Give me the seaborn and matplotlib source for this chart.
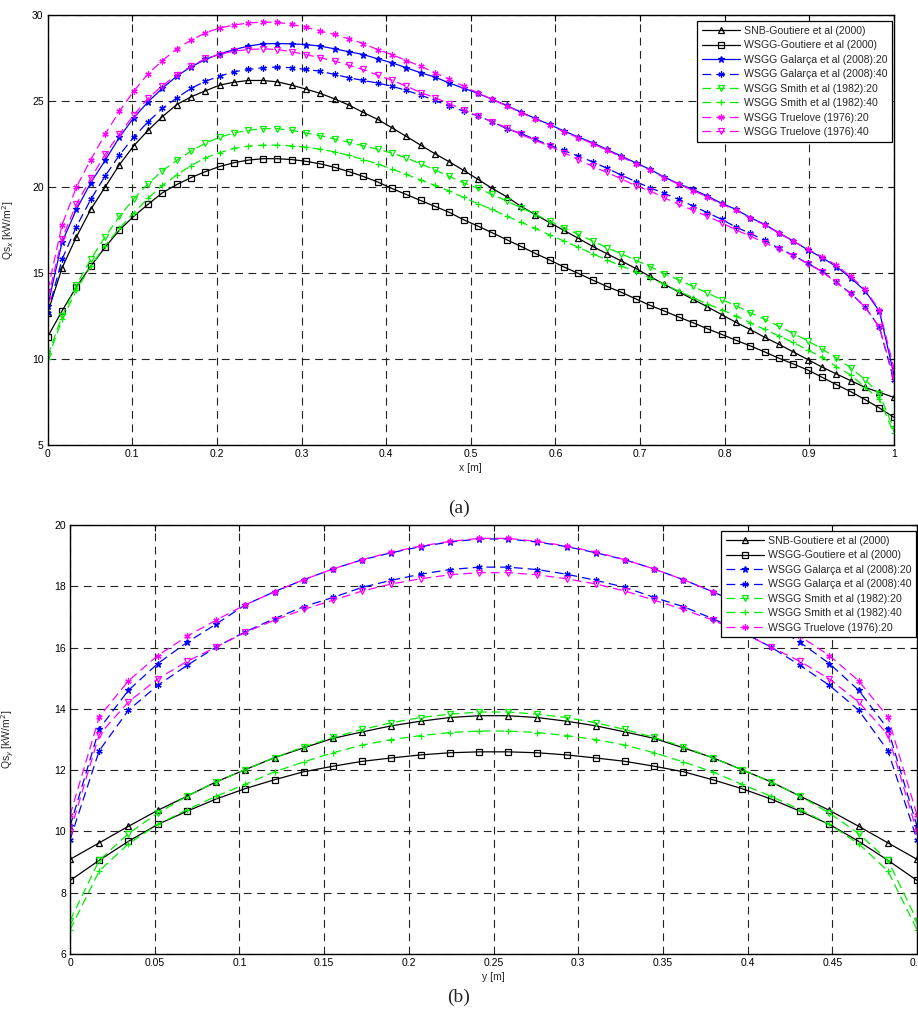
import numpy as np
import pandas as pd
import matplotlib
matplotlib.use("Agg")
import matplotlib.pyplot as plt
from matplotlib.ticker import FuncFormatter
import seaborn as sns

# ---- (a) wall flux along x, 60 stations ----
x_a = np.linspace(0, 1, 60)

snb_a = [12.7, 15.3, 17.1, 18.7, 20.0, 21.3, 22.4, 23.3, 24.1, 24.8,
         25.25, 25.6, 25.93, 26.1, 26.2, 26.2, 26.12, 25.93, 25.7, 25.45,
         25.13, 24.77, 24.34, 23.94, 23.45, 22.95, 22.44, 21.94, 21.47, 20.97,
         20.45, 19.92, 19.44, 18.88, 18.4, 17.93, 17.48, 17.02, 16.55, 16.12,
         15.7, 15.27, 14.8, 14.34, 13.91, 13.47, 13.04, 12.58, 12.13, 11.71,
         11.26, 10.85, 10.41, 9.97, 9.53, 9.13, 8.74, 8.35, 8.06, 7.77]
gout_a = [11.3, 12.8, 14.2, 15.4, 16.5, 17.5, 18.3, 19.0, 19.67, 20.15,
          20.55, 20.9, 21.2, 21.42, 21.57, 21.65, 21.65, 21.6, 21.5, 21.35,
          21.15, 20.9, 20.62, 20.3, 19.92, 19.57, 19.22, 18.88, 18.53, 18.1,
          17.73, 17.34, 16.94, 16.55, 16.14, 15.76, 15.35, 14.98, 14.59, 14.22,
          13.88, 13.5, 13.12, 12.79, 12.44, 12.11, 11.76, 11.43, 11.09, 10.76,
          10.41, 10.04, 9.71, 9.36, 8.94, 8.51, 8.1, 7.64, 7.15, 6.61]
gal20_a = [13.1, 16.8, 18.7, 20.25, 21.55, 22.9, 24.03, 24.96, 25.75, 26.45,
           27.0, 27.42, 27.75, 28.0, 28.2, 28.33, 28.35, 28.33, 28.29, 28.2,
           28.04, 27.87, 27.71, 27.46, 27.23, 26.94, 26.65, 26.4, 26.05, 25.75,
           25.45, 25.1, 24.75, 24.36, 23.99, 23.64, 23.26, 22.91, 22.58, 22.19,
           21.8, 21.41, 21.03, 20.58, 20.19, 19.86, 19.48, 19.05, 18.7, 18.22,
           17.83, 17.34, 16.86, 16.35, 15.9, 15.37, 14.71, 13.97, 12.77, 9.13]
gal40_a = [12.7, 15.8, 17.7, 19.28, 20.64, 21.86, 22.91, 23.8, 24.57, 25.19,
           25.74, 26.16, 26.45, 26.71, 26.84, 26.94, 26.98, 26.94, 26.84, 26.74,
           26.55, 26.36, 26.2, 26.05, 25.87, 25.62, 25.35, 25.04, 24.71, 24.42,
           24.13, 23.8, 23.4, 23.12, 22.77, 22.44, 22.13, 21.8, 21.47, 21.09,
           20.7, 20.32, 19.96, 19.63, 19.28, 18.9, 18.51, 18.12, 17.67, 17.3,
           16.9, 16.43, 16.03, 15.56, 15.1, 14.46, 13.82, 13.04, 11.84, 8.78]
smith20_a = [10.2, 12.5, 14.3, 15.8, 17.1, 18.3, 19.3, 20.2, 20.95, 21.55,
             22.1, 22.55, 22.9, 23.15, 23.3, 23.4, 23.4, 23.3, 23.15, 22.98,
             22.8, 22.6, 22.4, 22.2, 21.98, 21.7, 21.35, 21.0, 20.62, 20.25,
             19.92, 19.57, 19.19, 18.8, 18.41, 18.02, 17.64, 17.25, 16.86, 16.47,
             16.12, 15.74, 15.38, 14.96, 14.6, 14.22, 13.84, 13.45, 13.1, 12.69,
             12.31, 11.9, 11.48, 11.06, 10.58, 10.06, 9.48, 8.8, 7.97, 5.93]
smith40_a = [10.0, 12.3, 14.0, 15.4, 16.6, 17.6, 18.5, 19.35, 20.1, 20.7,
             21.25, 21.7, 22.0, 22.25, 22.38, 22.44, 22.44, 22.4, 22.32, 22.2,
             22.05, 21.85, 21.6, 21.35, 21.05, 20.74, 20.41, 20.1, 19.77, 19.4,
             19.03, 18.7, 18.31, 17.96, 17.6, 17.22, 16.86, 16.5, 16.12, 15.76,
             15.41, 15.08, 14.73, 14.34, 13.95, 13.57, 13.2, 12.87, 12.5, 12.11,
             11.72, 11.34, 10.96, 10.52, 10.11, 9.55, 9.07, 8.35, 7.67, 5.68]
true20_a = [14.0, 17.8, 20.0, 21.6, 23.06, 24.42, 25.58, 26.59, 27.36, 28.04,
            28.55, 28.97, 29.26, 29.42, 29.55, 29.59, 29.59, 29.46, 29.3, 29.07,
            28.88, 28.62, 28.35, 28.0, 27.71, 27.36, 27.03, 26.65, 26.26, 25.87,
            25.48, 25.1, 24.72, 24.33, 23.96, 23.6, 23.22, 22.87, 22.53, 22.14,
            21.75, 21.36, 20.98, 20.55, 20.16, 19.8, 19.42, 19.0, 18.65, 18.18,
            17.8, 17.3, 16.85, 16.38, 15.95, 15.45, 14.8, 14.05, 12.85, 9.5]
true40_a = [13.5, 17.0, 19.0, 20.5, 21.9, 23.1, 24.19, 25.16, 25.9, 26.53,
            27.03, 27.48, 27.71, 27.91, 28.0, 28.04, 28.0, 27.87, 27.71, 27.52,
            27.33, 27.09, 26.84, 26.51, 26.22, 25.87, 25.5, 25.2, 24.85, 24.5,
            24.13, 23.8, 23.45, 23.06, 22.71, 22.38, 22.0, 21.6, 21.2, 20.85,
            20.48, 20.08, 19.77, 19.38, 18.99, 18.65, 18.3, 17.93, 17.5, 17.15,
            16.76, 16.4, 16.0, 15.54, 15.08, 14.45, 13.8, 13.02, 11.84, 8.9]

# ---- (b) wall flux along y, 30 stations ----
x_b = np.linspace(0, 0.5, 30)

snb_b = [9.09, 9.63, 10.17, 10.69, 11.15, 11.62, 12.02, 12.41, 12.73, 13.04,
         13.25, 13.45, 13.6, 13.72, 13.78, 13.78, 13.72, 13.6, 13.45, 13.25,
         13.04, 12.73, 12.41, 12.02, 11.62, 11.15, 10.69, 10.17, 9.63, 9.09]
gout_b = [8.4, 9.06, 9.68, 10.23, 10.66, 11.06, 11.4, 11.69, 11.95, 12.13,
          12.29, 12.4, 12.5, 12.57, 12.6, 12.6, 12.57, 12.5, 12.4, 12.29,
          12.13, 11.95, 11.69, 11.4, 11.06, 10.66, 10.23, 9.68, 9.06, 8.4]
gal20_b = [10.17, 13.35, 14.61, 15.48, 16.17, 16.77, 17.4, 17.83, 18.22, 18.57,
           18.87, 19.1, 19.3, 19.45, 19.55, 19.55, 19.45, 19.3, 19.1, 18.87,
           18.57, 18.22, 17.83, 17.4, 16.77, 16.17, 15.48, 14.61, 13.35, 10.17]
gal40_b = [9.73, 12.64, 13.96, 14.77, 15.42, 16.02, 16.52, 16.95, 17.34, 17.64,
           17.97, 18.2, 18.4, 18.55, 18.63, 18.63, 18.55, 18.4, 18.2, 17.97,
           17.64, 17.34, 16.95, 16.52, 16.02, 15.42, 14.77, 13.96, 12.64, 9.73]
smith20_b = [7.09, 9.06, 9.93, 10.6, 11.15, 11.62, 12.02, 12.41, 12.76, 13.07,
             13.33, 13.55, 13.72, 13.83, 13.9, 13.9, 13.83, 13.72, 13.55, 13.33,
             13.07, 12.76, 12.41, 12.02, 11.62, 11.15, 10.6, 9.93, 9.06, 7.09]
smith40_b = [6.79, 8.71, 9.6, 10.23, 10.71, 11.15, 11.54, 11.95, 12.27, 12.57,
             12.82, 13.0, 13.13, 13.23, 13.28, 13.28, 13.23, 13.13, 13.0, 12.82,
             12.57, 12.27, 11.95, 11.54, 11.15, 10.71, 10.23, 9.6, 8.71, 6.79]
true20_b = [10.53, 13.74, 14.92, 15.74, 16.37, 16.9, 17.4, 17.83, 18.22, 18.57,
            18.87, 19.12, 19.32, 19.47, 19.57, 19.57, 19.47, 19.32, 19.12, 18.87,
            18.57, 18.22, 17.83, 17.4, 16.9, 16.37, 15.74, 14.92, 13.74, 10.53]
true40_b = [9.98, 13.16, 14.23, 14.98, 15.55, 16.02, 16.5, 16.9, 17.25, 17.55,
            17.85, 18.08, 18.25, 18.38, 18.45, 18.45, 18.38, 18.25, 18.08, 17.85,
            17.55, 17.25, 16.9, 16.5, 16.02, 15.55, 14.98, 14.23, 13.16, 9.98]

labels = ['SNB-Goutiere et al (2000)', 'WSGG-Goutiere et al (2000)',
          'WSGG Galarça et al (2008):20', 'WSGG Galarça et al (2008):40',
          'WSGG Smith et al (1982):20', 'WSGG Smith et al (1982):40',
          'WSGG Truelove (1976):20', 'WSGG Truelove (1976):40']

sns.set_theme(style='white')
plt.rcParams['font.family'] = ['Liberation Sans', 'DejaVu Sans']

DASH = (0, (7, 4))
AST = (6, 2, 0)
# colour, marker, filled, linestyle  (one per label)
styles = [
    ('black', '^', False, '-'),
    ('black', 's', False, '-'),
    ('#0000ff', '*', True, '-'),
    ('#0000ff', AST, True, DASH),
    ('#00ee00', 'v', False, DASH),
    ('#00ee00', '+', True, DASH),
    ('#ff00ff', AST, True, DASH),
    ('#ff00ff', 'v', False, DASH),
]


def draw(ax, x, series, in_legend, dash_blue20=False):
    for k, y in enumerate(series):
        col, mk, filled, ls = styles[k]
        if k == 2 and dash_blue20:
            ls = DASH
        df = pd.DataFrame({'x': x, 'y': y})
        sns.lineplot(data=df, x='x', y='y', ax=ax, color=col, linestyle=ls,
                     linewidth=0.9, marker=mk, markersize=4.5,
                     markerfacecolor=col if filled else 'none',
                     markeredgecolor=col, markeredgewidth=0.9,
                     estimator=None, sort=False,
                     label=labels[k] if k in in_legend else '_nolegend_')


def style_axes(ax):
    ax.grid(True, color='#222222', linestyle=(0, (7, 5)), linewidth=0.8)
    for s in ax.spines.values():
        s.set_color('black')
        s.set_linewidth(1.0)
    ax.tick_params(direction='in', top=True, right=True, length=4,
                   width=0.8, labelsize=7.5, pad=3, colors='black')
    ax.xaxis.set_major_formatter(FuncFormatter(lambda v, p: f'{v:g}'))
    ax.yaxis.set_major_formatter(FuncFormatter(lambda v, p: f'{v:g}'))


def add_legend(ax, corner):
    leg = ax.legend(loc='upper right', bbox_to_anchor=corner, fontsize=7.6,
                    frameon=True, fancybox=False, edgecolor='black', framealpha=1,
                    handlelength=3.6, labelspacing=0.42, borderpad=0.45,
                    handletextpad=0.4, borderaxespad=0)
    leg.get_frame().set_linewidth(0.9)


fig = plt.figure(figsize=(9.18, 10.09), dpi=100)

# top panel
ax1 = fig.add_axes([0.052, 0.559, 0.9216, 0.426])
draw(ax1, x_a, [snb_a, gout_a, gal20_a, gal40_a, smith20_a, smith40_a, true20_a, true40_a],
     in_legend=range(8))
ax1.set_xlim(0, 1)
ax1.set_ylim(5, 30)
ax1.set_xticks(np.arange(0, 1.01, 0.1))
ax1.set_yticks(np.arange(5, 31, 5))
style_axes(ax1)
ax1.set_xlabel('x [m]', fontsize=7.5, labelpad=3)
ax1.set_ylabel('Qs$_x$ [kW/m$^2$]', fontsize=7.5)
ax1.yaxis.set_label_coords(-0.038, 0.5)
add_legend(ax1, (0.998, 0.986))

# bottom panel
ax2 = fig.add_axes([0.0763, 0.0545, 0.9227, 0.425])
draw(ax2, x_b, [snb_b, gout_b, gal20_b, gal40_b, smith20_b, smith40_b, true20_b, true40_b],
     in_legend=range(7), dash_blue20=True)
ax2.set_xlim(0, 0.5)
ax2.set_ylim(6, 20)
ax2.set_xticks(np.arange(0, 0.501, 0.05))
ax2.set_yticks(np.arange(6, 21, 2))
style_axes(ax2)
ax2.set_xlabel('y [m]', fontsize=7.5, labelpad=3)
ax2.set_ylabel('Qs$_y$ [kW/m$^2$]', fontsize=7.5)
ax2.yaxis.set_label_coords(-0.064, 0.5)
add_legend(ax2, (0.999, 0.986))

fig.text(0.5, 1 - 508 / 1009, '(a)', ha='center', va='center',
         family='Liberation Serif', fontsize=14)
fig.text(0.5, 1 - 997 / 1009, '(b)', ha='center', va='center',
         family='Liberation Serif', fontsize=14)

fig.savefig('out.png', dpi=100)
